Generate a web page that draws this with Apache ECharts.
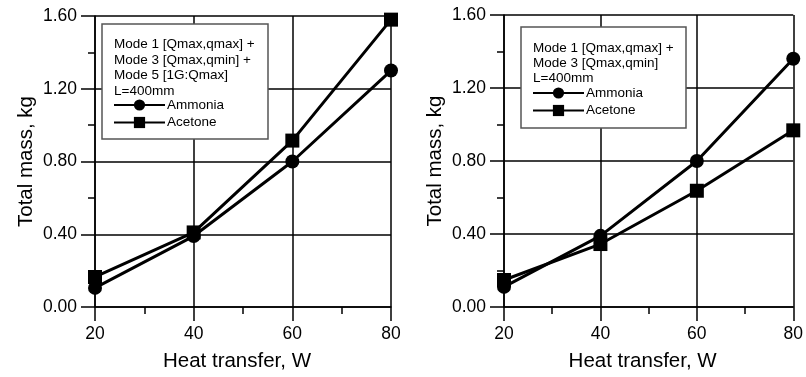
<!DOCTYPE html>
<html>
<head>
<meta charset="utf-8">
<script src="https://cdn.jsdelivr.net/npm/echarts@6/dist/echarts.min.js"></script>
<style>
  html, body { margin: 0; padding: 0; background: #fff; }
  #main { width: 806px; height: 377px; }
</style>
</head>
<body>
<div id="main"></div>
<script>
// heat transfer (W) on x axis
var heat = [20, 40, 60, 80];
// left panel: mode 1 + mode 3 + mode 5
var ammoniaLeft = [0.105, 0.39, 0.80, 1.30];
var acetoneLeft = [0.165, 0.41, 0.915, 1.58];
// right panel: mode 1 + mode 3
var ammoniaRight = [0.11, 0.39, 0.80, 1.36];
var acetoneRight = [0.148, 0.345, 0.637, 0.968];
var noteLeft = ['Mode 1 [Qmax,qmax] +', 'Mode 3 [Qmax,qmin] +', 'Mode 5 [1G:Qmax]', 'L=400mm'];
var noteRight = ['Mode 1 [Qmax,qmax] +', 'Mode 3 [Qmax,qmin]', 'L=400mm'];

var font = 'Liberation Sans, Arial, sans-serif';

function pairs(xs, ys) {
    return xs.map(function (x, i) { return [x, ys[i]]; });
}

function xAxisFor(idx) {
    return {
        type: 'value', gridIndex: idx, min: 20, max: 80, interval: 20,
        name: 'Heat transfer, W', nameLocation: 'middle', nameGap: 44,
        nameTextStyle: {fontFamily: font, fontSize: 20.5, color: '#000', padding: [0, 12, 0, 0]},
        axisLine: {lineStyle: {color: '#000', width: 1.5}},
        axisTick: {inside: false, length: 14, lineStyle: {color: '#000', width: 1.5}},
        minorTick: {show: true, splitNumber: 2, length: 7, lineStyle: {color: '#000', width: 1.5}},
        axisLabel: {fontFamily: font, fontSize: 17.5, color: '#000', margin: 18},
        splitLine: {show: true, lineStyle: {color: '#000', width: 1.5}}
    };
}

function yAxisFor(idx) {
    return {
        type: 'value', gridIndex: idx, min: 0, max: 1.6, interval: 0.4,
        name: 'Total mass, kg', nameLocation: 'middle', nameGap: 58,
        nameTextStyle: {fontFamily: font, fontSize: 20.5, color: '#000'},
        axisLine: {show: true, lineStyle: {color: '#000', width: 1.5}},
        axisTick: {show: true, inside: false, length: 14, lineStyle: {color: '#000', width: 1.5}},
        minorTick: {show: true, splitNumber: 2, length: 7, lineStyle: {color: '#000', width: 1.5}},
        axisLabel: {
            fontFamily: font, fontSize: 17.5, color: '#000', margin: 18,
            formatter: function (v) { return v.toFixed(2); }
        },
        splitLine: {show: true, lineStyle: {color: '#000', width: 1.5}}
    };
}

function seriesFor(name, idx, ys, symbol) {
    return {
        name: name, type: 'line', xAxisIndex: idx, yAxisIndex: idx,
        data: pairs(heat, ys), symbol: symbol, symbolSize: 14,
        showAllSymbol: true, clip: false, z: 3,
        lineStyle: {color: '#000', width: 3},
        itemStyle: {color: '#000'}
    };
}

function legendFor(idx, left, top) {
    return {
        data: ['Ammonia', 'Acetone'],
        left: left, top: top, orient: 'vertical', padding: 0,
        itemWidth: 51, itemHeight: 14, itemGap: 3.5, z: 6,
        selectedMode: false,
        textStyle: {fontFamily: font, fontSize: 13.5, color: '#000', padding: [0, 0, 0, -3]}
    };
}

function noteGraphics(lines, box, x0, y0, step) {
    var els = [{
        type: 'rect', z: 5,
        shape: {x: box[0], y: box[1], width: box[2], height: box[3]},
        style: {fill: '#fff', stroke: '#555', lineWidth: 1.5}
    }];
    lines.forEach(function (t, i) {
        els.push({
            type: 'text', z: 6, x: x0, y: y0 + i * step,
            style: {text: t, fontFamily: font, fontSize: 13.5, fill: '#000', verticalAlign: 'middle'}
        });
    });
    return els;
}

var chart = echarts.init(document.getElementById('main'));

var option = {
    backgroundColor: '#fff',
    animation: false,
    grid: [
        {left: 95, top: 16, width: 296, height: 296},
        {left: 504, top: 15, width: 294, height: 295}
    ],
    xAxis: [xAxisFor(0), xAxisFor(1)],
    yAxis: [yAxisFor(0), yAxisFor(1)],
    legend: [legendFor(0, 113, 98), legendFor(1, 532, 86)],
    graphic: noteGraphics(noteLeft, [102, 24, 166, 115], 114, 44.5, 15.5)
        .concat(noteGraphics(noteRight, [521, 27, 165, 101], 533, 48, 15.3)),
    series: [
        seriesFor('Ammonia', 0, ammoniaLeft, 'circle'),
        seriesFor('Acetone', 0, acetoneLeft, 'rect'),
        seriesFor('Ammonia', 1, ammoniaRight, 'circle'),
        seriesFor('Acetone', 1, acetoneRight, 'rect')
    ]
};

chart.setOption(option);
</script>
</body>
</html>
